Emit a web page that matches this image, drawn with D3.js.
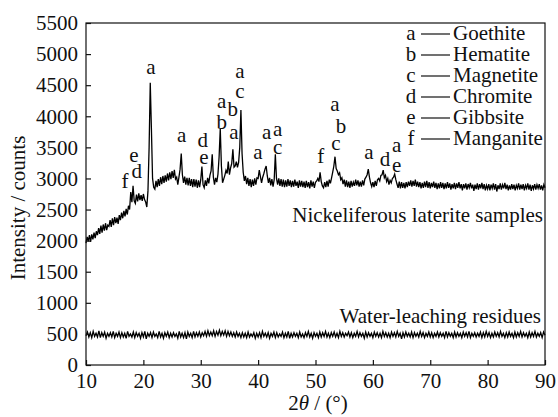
<!DOCTYPE html>
<html><head><meta charset="utf-8">
<script src="https://cdn.jsdelivr.net/npm/d3@7"></script>
<style>body{margin:0;background:#fff}svg{display:block}text{font-family:"Liberation Serif","Times New Roman",serif;fill:#111}</style>
</head><body><svg id="c" width="558" height="417"></svg>
<script>
// Nickeliferous laterite samples: 2θ from 10 to 90 step 0.2
const lateriteStart = 10, lateriteStep = 0.2;
const lateriteCounts = [
1960,2060,1990,2090,1980,2100,2020,2130,2040,2150,
2090,2200,2110,2240,2130,2260,2160,2280,2170,2250,
2230,2330,2220,2360,2250,2380,2280,2370,2270,2410,
2330,2450,2360,2480,2390,2510,2420,2560,2500,2780,
2620,2880,2640,2600,2740,2630,2760,2650,2730,2640,
2750,2660,2620,2540,2800,3500,4540,3800,3000,2860,
2830,2960,2860,2990,2880,3020,2910,3040,2930,3050,
2950,3080,2970,3100,2990,3120,3010,3140,2990,3020,
2900,3020,3150,3400,3060,2930,3030,2900,3010,2890,
3010,2880,2990,2860,2990,2870,2980,2850,2970,2860,
2980,3190,2900,2850,2970,2880,3010,2920,3050,3120,
3390,3020,2900,3010,2940,3070,3350,3800,3200,2930,
2990,3050,3130,3080,3270,3060,3170,3240,3470,3180,
3200,3270,3180,3260,3500,4100,3400,3100,2960,3040,
2910,3010,2880,2990,2860,2980,2880,3000,2900,3010,
3000,3135,3030,2930,3020,3080,3150,3200,3040,2930,
3010,2890,2990,2870,2980,3390,3000,2900,3000,2880,
2990,2870,2980,2860,2970,2870,2990,2880,2970,2860,
2960,2870,2980,2880,2950,2850,2970,2870,2960,2860,
2950,2850,2960,2860,2940,2840,2970,2870,2950,2850,
2940,2960,3000,2950,3100,2950,2880,2850,2940,2860,
2960,2870,2980,2920,3010,3100,3200,3350,3160,3120,
3060,3090,2980,3010,2910,2980,2870,2970,2860,2950,
2850,2960,2870,2940,2880,2980,2890,2970,2870,2950,
2870,2970,2890,2990,3020,3060,3150,3020,2930,2870,
2940,2860,2960,2880,2980,3000,2960,3050,3060,3135,
3010,3050,2950,3000,2900,2970,2930,3000,3020,3070,
2980,2910,2850,2950,2840,2940,2850,2930,2840,2940,
2860,2950,2880,2970,2870,2960,2880,2980,2870,2950,
2860,2940,2840,2930,2850,2950,2860,2960,2850,2940,
2840,2930,2860,2950,2850,2930,2830,2920,2840,2940,
2850,2930,2830,2920,2840,2940,2850,2920,2820,2910,
2840,2930,2830,2920,2850,2940,2840,2910,2810,2910,
2840,2920,2820,2910,2850,2930,2840,2900,2800,2900,
2830,2920,2820,2910,2840,2930,2830,2910,2810,2890,
2830,2910,2810,2900,2840,2920,2820,2910,2790,2890,
2830,2920,2820,2900,2840,2930,2830,2900,2810,2890,
2820,2910,2830,2900,2810,2890,2840,2920,2820,2900,
2830,2910,2810,2890,2840,2920,2820,2900,2800,2890,
2830,2910,2820,2900,2840,2910,2820,2890,2810,2900,
2850];

// Water-leaching residues: 2θ from 10 to 90 step 0.25
const residueStart = 10, residueStep = 0.25;
const residueCounts = [
470,530,450,520,440,540,460,510,
450,550,440,520,460,530,430,510,
460,520,450,540,440,510,460,530,
440,520,450,510,430,540,460,500,
450,530,440,520,460,510,430,520,
450,540,420,510,460,520,440,530,
460,500,440,540,450,510,430,520,
460,530,440,510,450,520,460,500,
430,540,450,510,440,520,420,530,
460,510,440,540,450,520,460,530,
450,520,470,540,460,550,470,530,
470,550,460,540,480,560,470,540,
480,550,460,540,470,530,460,520,
450,530,460,510,440,520,450,510,
440,530,450,500,460,520,430,510,
450,520,440,540,460,510,450,520,
430,510,460,530,440,520,450,500,
460,530,440,510,450,540,430,510,
450,520,460,510,440,530,450,500,
440,520,460,540,450,510,430,520,
460,510,440,530,450,520,460,540,
450,510,440,520,460,530,450,510,
440,540,460,520,450,510,470,530,
450,520,440,510,460,540,450,520,
460,510,430,530,450,520,460,510,
440,530,460,520,450,510,440,540,
460,520,450,510,440,530,460,520,
450,540,460,510,420,520,450,530,
460,510,450,530,440,520,460,510,
450,540,460,520,440,510,460,530,
450,520,440,510,460,530,450,520,
460,510,440,540,450,520,460,510,
440,530,450,520,460,510,440,530,
460,520,450,540,440,510,460,520,
450,510,460,530,440,520,450,540,
460,520,440,510,450,530,460,520,
450,540,460,510,440,520,450,530,
460,510,440,530,450,520,460,540,
450,520,460,510,440,530,450,520,
460,540,450,510,460,520,440,530,
480];

// Peak labels: [letter, 2θ, counts]
const peakLetters = ["f","d","e","a","a","d","e","a","b","b","a","a","c","a","a","a","c","f","a","b","c","a","d","a","e"];
const peakAngles  = [16.8,18.84,18.37,21.33,26.68,30.34,30.57,33.65,33.65,35.57,35.80,36.84,36.84,39.98,41.50,43.41,43.41,50.91,53.40,54.44,53.57,59.32,62.11,64.15,64.15];
const peakCounts  = [2840,3000,3265,4680,3590,3500,3225,4133,3790,4000,3635,4616,4294,3313,3635,3688,3393,3250,4085,3730,3458,3313,3205,3430,3105];

const legendLetters = ["a","b","c","d","e","f"];
const legendPhases = ["Goethite","Hematite","Magnetite","Chromite","Gibbsite","Manganite"];

const xTicks = [10,20,30,40,50,60,70,80,90];
const yTicks = [0,500,1000,1500,2000,2500,3000,3500,4000,4500,5000,5500];
const seriesNames = ["Nickeliferous laterite samples","Water-leaching residues"];

const svg = d3.select("#c");
const L = 86, R = 545, T = 23, B = 365;
const x = d3.scaleLinear().domain([10,90]).range([L,R]);
const y = d3.scaleLinear().domain([0,5500]).range([B,T]);

const lat = lateriteCounts.map((v,i)=>[lateriteStart+i*lateriteStep, v]);
const res = residueCounts.map((v,i)=>[residueStart+i*residueStep, v]);
const line = d3.line().x(d=>x(d[0])).y(d=>y(d[1]));

svg.append("path").attr("d",line(lat)).attr("fill","none").attr("stroke","#000").attr("stroke-width",1.3);
svg.append("path").attr("d",line(res)).attr("fill","none").attr("stroke","#000").attr("stroke-width",1.3);

// frame
svg.append("rect").attr("x",L).attr("y",T).attr("width",R-L).attr("height",B-T)
  .attr("fill","none").attr("stroke","#111").attr("stroke-width",1.2);

const fs = 21;
const xAxis = svg.append("g").attr("transform",`translate(0,${B})`)
  .call(d3.axisBottom(x).tickValues(xTicks).tickFormat(d3.format("d")).tickSizeInner(-5).tickSizeOuter(0).tickPadding(8));
const yAxis = svg.append("g").attr("transform",`translate(${L},0)`)
  .call(d3.axisLeft(y).tickValues(yTicks).tickFormat(d3.format("d")).tickSizeInner(-5).tickSizeOuter(0).tickPadding(8));
[xAxis,yAxis].forEach(g=>{
  g.select(".domain").remove();
  g.selectAll(".tick line").attr("stroke","#111").attr("stroke-width",1.2);
  g.selectAll(".tick text").attr("font-size",fs).attr("fill","#111");
});

// axis titles
svg.append("text").attr("transform",`translate(25,${(T+B)/2+14}) rotate(-90)`).attr("text-anchor","middle")
  .attr("font-size",fs).text("Intensity / counts");
const xt = svg.append("text").attr("x",318).attr("y",410).attr("text-anchor","middle").attr("font-size",fs);
xt.append("tspan").text("2");
xt.append("tspan").attr("font-style","italic").text("θ");
xt.append("tspan").text(" / (°)");

// peak labels
peakLetters.forEach((t,i)=>{
  svg.append("text").attr("x",x(peakAngles[i])).attr("y",y(peakCounts[i])).attr("text-anchor","middle")
    .attr("font-size",fs).text(t);
});

// legend
legendLetters.forEach((t,i)=>{
  const by = 40 + i*21;
  svg.append("text").attr("x",411).attr("y",by).attr("text-anchor","middle").attr("font-size",fs).text(t);
  svg.append("line").attr("x1",421).attr("x2",450).attr("y1",by-6).attr("y2",by-6).attr("stroke","#111").attr("stroke-width",1.2);
  svg.append("text").attr("x",453).attr("y",by).attr("font-size",fs).text(legendPhases[i]);
});

// series labels
svg.append("text").attr("x",543).attr("y",222).attr("text-anchor","end").attr("font-size",fs).text(seriesNames[0]);
svg.append("text").attr("x",541).attr("y",323).attr("text-anchor","end").attr("font-size",fs).text(seriesNames[1]);
</script></body></html>
